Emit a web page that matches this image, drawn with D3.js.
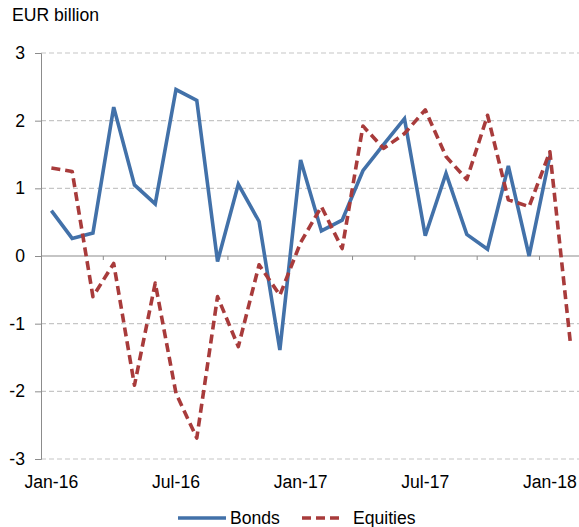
<!DOCTYPE html>
<html><head><meta charset="utf-8">
<script src="https://cdn.jsdelivr.net/npm/d3@7"></script>
<style>
html,body{margin:0;padding:0;background:#fff;}
svg{display:block;font-family:"Liberation Sans",Arial,sans-serif;}
</style></head>
<body><svg id="c" width="579" height="527"></svg>
<script>
const months = ["Jan-16","Feb-16","Mar-16","Apr-16","May-16","Jun-16","Jul-16","Aug-16","Sep-16","Oct-16","Nov-16","Dec-16",
"Jan-17","Feb-17","Mar-17","Apr-17","May-17","Jun-17","Jul-17","Aug-17","Sep-17","Oct-17","Nov-17","Dec-17","Jan-18","Feb-18"];
const tickLabels = ["Jan-16","Jul-16","Jan-17","Jul-17","Jan-18"];
const yTicks = [-3,-2,-1,0,1,2,3];
const bonds = [0.67,0.26,0.34,2.20,1.05,0.77,2.46,2.30,-0.08,1.06,0.51,-1.39,1.42,0.37,0.53,1.26,1.65,2.03,0.30,1.22,0.32,0.10,1.33,0.00,1.48];
const equities = [1.30,1.25,-0.60,-0.11,-1.91,-0.40,-2.03,-2.69,-0.60,-1.34,-0.13,-0.58,0.20,0.73,0.11,1.92,1.59,1.81,2.16,1.47,1.13,2.08,0.83,0.73,1.54,-1.32];

const FS = "17.6px";
const svg = d3.select("#c");
const x0 = 41, step = 20.77;
const x = d3.scaleBand().domain(months).range([x0, x0 + step*months.length]).padding(0);
const y = d3.scaleLinear().domain([-3,3]).range([459,53]);
const cx = m => x(m) + x.bandwidth()/2;

// gridlines
svg.append("g").selectAll("line").data(yTicks.filter(v=>v!==0)).join("line")
  .attr("x1", x0).attr("x2", 579).attr("y1", d=>y(d)).attr("y2", d=>y(d))
  .attr("stroke","#c6c6c6").attr("stroke-width",1.2).attr("stroke-dasharray","5,3");

// y axis
const yAxis = svg.append("g").attr("transform",`translate(${x0},0)`)
  .call(d3.axisLeft(y).tickValues(yTicks).tickSize(6).tickPadding(9).tickFormat(d=>String(d)));
yAxis.select(".domain").attr("stroke","#8c8c8c");
yAxis.selectAll(".tick line").attr("stroke","#8c8c8c");
yAxis.selectAll(".tick text").attr("font-size",FS).attr("fill","#000")
  .attr("font-family","Liberation Sans, Arial, sans-serif").attr("x",-16);

// x axis at zero
const xg = svg.append("g");
xg.append("line").attr("x1",x0).attr("x2",579).attr("y1",y(0)).attr("y2",y(0)).attr("stroke","#8c8c8c").attr("stroke-width",1.2);
const tickMonths = months.filter((m,i)=>i%3===0 && i>0);
xg.selectAll("line.t").data(tickMonths).join("line").attr("class","t")
  .attr("x1",d=>x(d)).attr("x2",d=>x(d)).attr("y1",y(0)).attr("y2",y(0)+4).attr("stroke","#8c8c8c");
xg.selectAll("text").data(tickLabels).join("text")
  .attr("x",d=>cx(d)).attr("y",488).attr("text-anchor","middle").attr("font-size",FS).text(d=>d);

// title
svg.append("text").attr("x",12).attr("y",21).attr("font-size",FS).text("EUR billion");

// lines
const line = d3.line().x((d,i)=>cx(months[i])).y(d=>y(d));
svg.append("path").datum(bonds).attr("d",line).attr("fill","none")
  .attr("stroke","#4271a9").attr("stroke-width",3.6).attr("stroke-linejoin","miter");
svg.append("path").datum(equities).attr("d",line).attr("fill","none")
  .attr("stroke","#a83b3b").attr("stroke-width",3.6).attr("stroke-dasharray","9,5").attr("stroke-linejoin","round");

// legend
const lg = svg.append("g");
lg.append("line").attr("x1",178).attr("x2",226).attr("y1",518).attr("y2",518).attr("stroke","#4271a9").attr("stroke-width",3.6);
lg.append("text").attr("x",230).attr("y",524).attr("font-size",FS).text("Bonds");
lg.append("line").attr("x1",302).attr("x2",344).attr("y1",518).attr("y2",518).attr("stroke","#a83b3b").attr("stroke-width",3.6).attr("stroke-dasharray","9,5");
lg.append("text").attr("x",353).attr("y",524).attr("font-size",FS).text("Equities");
</script></body></html>
